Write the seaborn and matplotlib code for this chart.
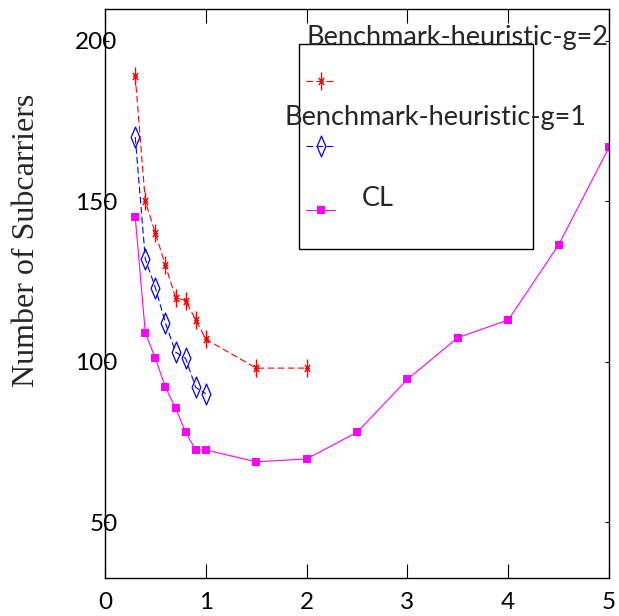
import numpy as np
import pandas as pd
import matplotlib
matplotlib.use("Agg")
import matplotlib.pyplot as plt
from matplotlib.path import Path
from matplotlib.lines import Line2D
from matplotlib.patches import Rectangle
import seaborn as sns

# Distance values (x axis) and subcarrier counts per scheme
x_g2 = [0.3, 0.4, 0.5, 0.6, 0.7, 0.8, 0.9, 1.0, 1.5, 2.0]
y_g2 = [189, 150, 140, 130, 120, 119, 113, 107, 98, 98]

x_g1 = [0.3, 0.4, 0.5, 0.6, 0.7, 0.8, 0.9, 1.0]
y_g1 = [170, 132, 123, 112, 103, 101, 92, 90]

x_cl = [0.3, 0.4, 0.5, 0.6, 0.7, 0.8, 0.9, 1.0, 1.5, 2.0, 2.5, 3.0, 3.5, 4.0, 4.5, 5.0]
y_cl = [145, 109, 101, 92, 85.5, 78, 72.5, 72.5, 68.8, 69.7, 78, 94.5, 107.5, 113, 136.4, 166.8]

labels = ["Benchmark-heuristic-g=2", "Benchmark-heuristic-g=1", "CL"]
xticks = [0, 1, 2, 3, 4, 5]
yticks = [50, 100, 150, 200]
ylabel = "Number of Subcarriers"

RED, BLUE, MAGENTA = "#ff0000", "#0000ff", "#ff00ff"

# Tall asterisk marker
asterisk = Path(
    [(0, -1), (0, 1), (-0.3, -0.4), (0.3, 0.4), (-0.3, 0.4), (0.3, -0.4), (-0.28, 0), (0.28, 0)],
    [Path.MOVETO, Path.LINETO] * 4,
)
# Narrow open diamond marker
diamond = Path(
    [(0, 1), (0.42, 0), (0, -1), (-0.42, 0), (0, 1)],
    [Path.MOVETO, Path.LINETO, Path.LINETO, Path.LINETO, Path.CLOSEPOLY],
)

sns.set_theme(style="ticks")
plt.rcParams["font.family"] = ["Lato", "DejaVu Sans"]

W, H = 619, 616
fig = plt.figure(figsize=(W / 100, H / 100), dpi=100)
ax = fig.add_axes([105 / W, 1 - 578 / H, 504 / W, 569 / H])

df_g2 = pd.DataFrame({"x": x_g2, "y": y_g2})
df_g1 = pd.DataFrame({"x": x_g1, "y": y_g1})
df_cl = pd.DataFrame({"x": x_cl, "y": y_cl})

style_g2 = dict(color=RED, linestyle=(0, (6, 3)), linewidth=0.8, marker=asterisk,
                markersize=13, markeredgewidth=1.0, markerfacecolor="none", markeredgecolor=RED)
style_g1 = dict(color=BLUE, linestyle=(0, (6, 3)), linewidth=0.8, marker=diamond,
                markersize=15, markeredgewidth=0.9, markerfacecolor="none", markeredgecolor=BLUE)
style_cl = dict(color=MAGENTA, linestyle="-", linewidth=0.8, marker="s",
                markersize=6, markeredgewidth=0, markerfacecolor=MAGENTA)

sns.lineplot(data=df_g2, x="x", y="y", ax=ax, sort=False, estimator=None, **style_g2)
sns.lineplot(data=df_g1, x="x", y="y", ax=ax, sort=False, estimator=None, **style_g1)
sns.lineplot(data=df_cl, x="x", y="y", ax=ax, sort=False, estimator=None, **style_cl)

ax.set_xlim(0, 5)
ax.set_ylim(32.6, 209.9)
ax.set_xticks(xticks)
ax.set_yticks(yticks)
ax.set_xticklabels([str(t) for t in xticks], fontsize=17.5)
ax.set_yticklabels([str(t) for t in yticks], fontsize=17.5)
ax.tick_params(axis="x", direction="in", length=10, width=0.8, top=True, pad=10, colors="black")
ax.tick_params(axis="y", direction="in", length=3, width=0.8, right=True, pad=-9, colors="black")
ax.set_xlabel("")
ax.set_ylabel("")
for s in ax.spines.values():
    s.set_visible(True)
    s.set_color("black")
    s.set_linewidth(1.0)
    s.set_zorder(3)


def fx(px):
    return px / W


def fy(py):
    return 1 - py / H


fig.text(fx(27), fy(240), ylabel, rotation=90, ha="center", va="center",
         family="Liberation Serif", fontsize=23)

# Legend frame
fig.add_artist(Rectangle((fx(299), fy(249)), fx(533) - fx(299), fy(44) - fy(249),
                         transform=fig.transFigure, facecolor="white", edgecolor="black",
                         linewidth=1.0, zorder=5))

handles = [(style_g2, 81), (style_g1, 146), (style_cl, 210)]
for st, yy in handles:
    fig.add_artist(Line2D([fx(306), fx(320.5), fx(335)], [fy(yy)] * 3, markevery=[1],
                          transform=fig.transFigure, zorder=6, **st))

fig.text(fx(457.5), fy(38), labels[0], ha="center", va="center", fontsize=19.5, zorder=7)
fig.text(fx(435), fy(118), labels[1], ha="center", va="center", fontsize=19.5, zorder=7)
fig.text(fx(377.5), fy(198), labels[2], ha="center", va="center", fontsize=19.5, zorder=7)

fig.savefig("out.png", dpi=100, facecolor="white")
